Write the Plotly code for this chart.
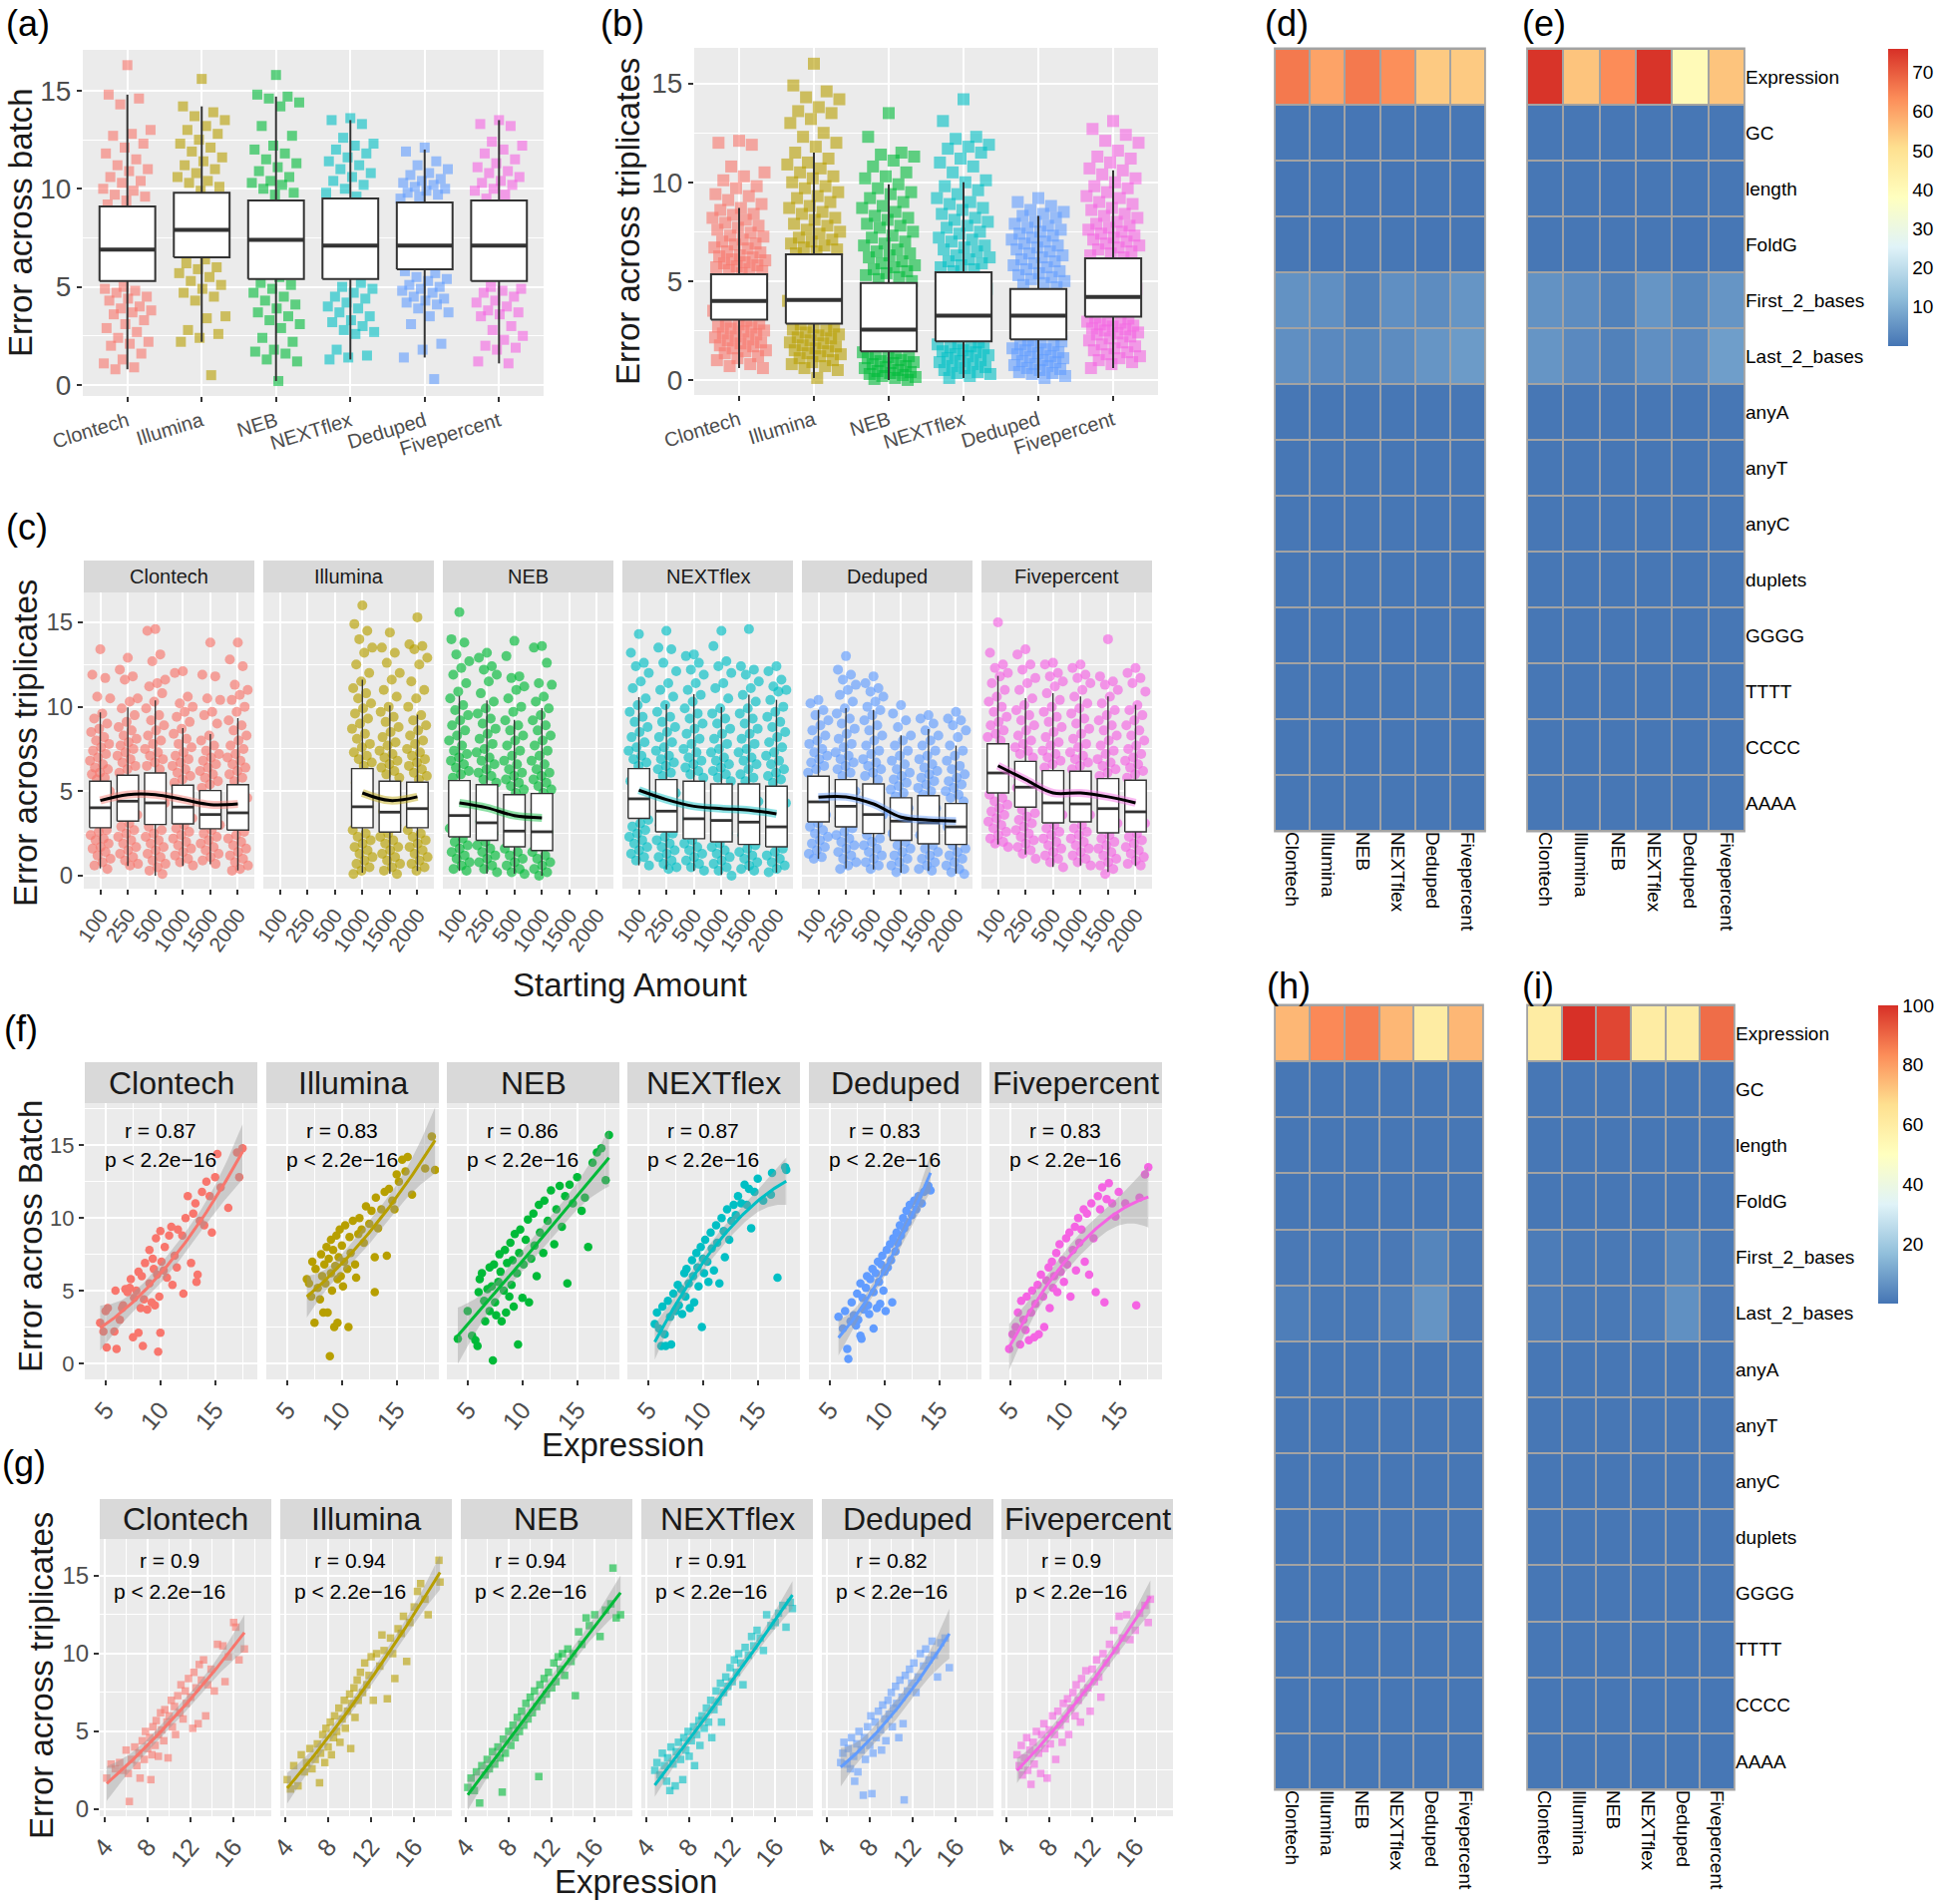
import numpy as np
import plotly.graph_objects as go

W, H = 1946, 1909
SANS = "Liberation Sans, Arial, Helvetica, sans-serif"

# ---------------------------------------------------------------- data
categories = ["Clontech", "Illumina", "NEB", "NEXTflex", "Deduped", "Fivepercent"]
amounts = ["100", "250", "500", "1000", "1500", "2000"]
colors = ["#F8766D", "#B79F00", "#00BA38", "#00BFC4", "#619CFF", "#F564E3"]

# (a) error across batch
a_clontech = [16.3, 14.8, 14.6, 14.3, 13.0, 12.8, 12.7, 12.3, 12.1, 11.8, 11.5, 11.2, 11.0, 10.9, 10.6, 10.4, 10.3,
              10.0, 9.9, 9.7, 9.6, 9.4, 9.2, 8.8, 8.1, 7.4, 6.9, 6.2, 5.6, 5.0, 4.9, 4.8, 4.7, 4.5, 4.4, 4.3, 4.0,
              3.9, 3.8, 3.7, 3.6, 3.3, 3.1, 2.9, 2.7, 2.4, 2.2, 2.1, 2.0, 1.6, 1.3, 1.1, 0.9, 0.8]
a_illumina = [15.6, 14.2, 13.9, 13.7, 13.5, 13.2, 13.0, 12.8, 12.5, 12.3, 12.1, 11.9, 11.6, 11.4, 11.2, 11.0, 10.8,
              10.6, 10.4, 10.3, 10.1, 9.9, 9.2, 8.4, 7.6, 6.9, 6.4, 6.2, 6.0, 5.9, 5.7, 5.5, 5.3, 5.1, 4.9, 4.7,
              4.5, 4.3, 3.5, 3.4, 2.8, 2.6, 2.4, 2.2, 0.5]
a_neb = [15.8, 14.8, 14.7, 14.6, 14.4, 14.2, 13.2, 12.7, 12.2, 12.0, 11.8, 11.5, 11.3, 11.1, 10.9, 10.6, 10.4, 10.3,
         10.2, 10.0, 9.8, 9.7, 8.8, 7.9, 7.2, 6.3, 5.5, 5.2, 5.1, 4.9, 4.7, 4.5, 4.3, 4.1, 3.9, 3.7, 3.5, 3.3, 3.1,
         2.9, 2.4, 2.2, 1.8, 1.7, 1.6, 1.3, 1.2, 0.2]
a_nextflex = [13.6, 13.5, 13.3, 12.6, 12.3, 12.2, 12.0, 11.8, 11.6, 11.4, 11.2, 11.0, 10.8, 10.6, 10.4, 10.2, 10.0,
              9.8, 9.6, 8.9, 7.9, 7.1, 6.0, 5.2, 5.0, 4.9, 4.7, 4.5, 4.4, 4.2, 4.0, 3.9, 3.7, 3.5, 3.3, 3.2, 3.0,
              2.8, 2.7, 2.6, 1.8, 1.5, 1.4, 1.3]
a_deduped = [12.1, 11.9, 11.4, 11.2, 11.0, 10.8, 10.7, 10.5, 10.4, 10.3, 10.2, 10.1, 10.0, 9.9, 9.8, 9.7, 9.6, 9.5,
             8.7, 7.8, 7.1, 6.3, 5.8, 5.7, 5.5, 5.4, 5.3, 5.1, 5.0, 4.9, 4.8, 4.7, 4.5, 4.4, 4.3, 4.2, 4.1, 3.9,
             3.7, 3.5, 3.1, 2.1, 1.8, 1.4, 0.3]
a_fivepercent = [13.5, 13.3, 13.2, 12.4, 12.2, 12.0, 11.8, 11.5, 11.3, 11.1, 10.9, 10.8, 10.6, 10.4, 10.3, 10.2,
                 10.0, 9.9, 9.7, 9.5, 8.6, 7.6, 6.8, 5.8, 5.0, 4.9, 4.8, 4.7, 4.5, 4.3, 4.2, 4.0, 3.8, 3.7, 3.6,
                 3.5, 3.0, 2.8, 2.5, 2.3, 2.0, 1.9, 1.8, 1.2, 1.1]
a_q1 = [5.3, 6.5, 5.4, 5.4, 5.9, 5.3]
a_med = [6.9, 7.9, 7.4, 7.1, 7.1, 7.1]
a_q3 = [9.1, 9.8, 9.4, 9.5, 9.3, 9.4]
a_lo = [0.8, 2.2, 0.2, 1.3, 1.4, 1.1]
a_hi = [14.8, 14.2, 14.7, 13.5, 12.0, 13.5]

# (b) error across triplicates
b_clontech = [12.1, 12.0, 11.9, 10.8, 10.5, 10.3, 10.1, 9.8, 9.7, 9.4, 9.3, 9.1, 8.9, 8.7, 8.6, 8.4, 8.35, 8.2, 8.1,
              7.95, 7.8, 7.7, 7.6, 7.45, 7.3, 7.25, 7.1, 7.0, 6.9, 6.85, 6.7, 6.65, 6.5, 6.45, 6.3, 6.25, 6.2, 6.1,
              6.05, 5.95, 5.9, 5.8, 5.75, 5.7, 5.6, 5.55, 5.5, 5.4, 5.0, 4.5, 4.0, 3.5, 3.0, 2.95, 2.85, 2.8, 2.7,
              2.65, 2.6, 2.5, 2.45, 2.35, 2.3, 2.2, 2.15, 2.05, 2.0, 1.9, 1.85, 1.75, 1.7, 1.6, 1.5, 1.45, 1.35,
              1.2, 1.1, 1.0, 0.8, 0.7, 0.6]
b_illumina = [16.0, 14.9, 14.6, 14.3, 14.2, 13.8, 13.6, 13.5, 13.2, 13.0, 12.5, 12.3, 12.0, 11.8, 11.5, 11.2, 11.0,
              10.9, 10.7, 10.5, 10.3, 10.2, 10.0, 9.8, 9.7, 9.5, 9.3, 9.2, 9.0, 8.8, 8.7, 8.5, 8.4, 8.2, 8.1, 7.9,
              7.8, 7.6, 7.5, 7.4, 7.2, 7.1, 7.0, 6.9, 6.8, 6.7, 6.6, 6.5, 6.4, 5.8, 5.0, 4.0, 3.3, 2.8, 2.7, 2.65,
              2.55, 2.5, 2.4, 2.3, 2.25, 2.15, 2.1, 2.0, 1.9, 1.85, 1.75, 1.7, 1.6, 1.5, 1.45, 1.35, 1.3, 1.2,
              1.1, 1.0, 0.9, 0.8, 0.7, 0.6, 0.5, 0.1]
b_neb = [13.5, 12.3, 11.5, 11.4, 11.3, 11.1, 10.8, 10.5, 10.3, 10.2, 9.9, 9.7, 9.5, 9.4, 9.2, 9.0, 8.8, 8.7, 8.5, 8.3,
         8.2, 8.1, 7.9, 7.8, 7.7, 7.5, 7.3, 7.2, 7.0, 6.9, 6.8, 6.6, 6.5, 6.4, 6.3, 6.2, 6.0, 5.9, 5.8, 5.7, 5.6,
         5.5, 5.4, 5.3, 5.2, 5.1, 5.0, 4.2, 3.2, 2.5, 1.8, 1.4, 1.35, 1.3, 1.2, 1.15, 1.1, 1.0, 0.95, 0.9, 0.85,
         0.8, 0.7, 0.65, 0.6, 0.5, 0.45, 0.4, 0.35, 0.3, 0.25, 0.2, 0.15, 0.1, 0.05, 0.0]
b_nextflex = [14.2, 13.1, 12.3, 12.2, 11.9, 11.8, 11.7, 11.5, 11.2, 11.0, 10.8, 10.5, 10.1, 10.0, 9.8, 9.6, 9.4, 9.2,
              9.0, 8.9, 8.7, 8.6, 8.4, 8.2, 8.1, 8.0, 7.8, 7.7, 7.5, 7.4, 7.2, 7.1, 7.0, 6.8, 6.7, 6.6, 6.5, 6.3,
              6.2, 6.1, 6.0, 5.9, 5.8, 5.7, 5.6, 5.5, 4.6, 3.3, 2.4, 1.9, 1.85, 1.8, 1.7, 1.65, 1.6, 1.5, 1.45,
              1.4, 1.3, 1.25, 1.2, 1.1, 1.0, 0.95, 0.9, 0.8, 0.7, 0.65, 0.6, 0.5, 0.4, 0.35, 0.3, 0.2, 0.1]
b_deduped = [9.2, 9.0, 8.8, 8.6, 8.5, 8.4, 8.3, 8.2, 8.0, 7.9, 7.8, 7.7, 7.6, 7.5, 7.4, 7.3, 7.2, 7.1, 7.0, 6.9, 6.8,
             6.7, 6.6, 6.5, 6.4, 6.3, 6.2, 6.1, 6.0, 5.9, 5.8, 5.7, 5.6, 5.5, 5.4, 5.3, 5.2, 5.1, 5.0, 4.9, 4.8,
             4.7, 4.0, 3.3, 2.6, 2.0, 1.95, 1.9, 1.8, 1.75, 1.7, 1.6, 1.55, 1.5, 1.4, 1.35, 1.3, 1.2, 1.15, 1.1,
             1.0, 0.95, 0.9, 0.8, 0.75, 0.7, 0.6, 0.55, 0.5, 0.4, 0.35, 0.3, 0.2, 0.1]
b_fivepercent = [13.1, 12.7, 12.4, 12.1, 12.0, 11.6, 11.3, 11.2, 11.0, 10.7, 10.6, 10.4, 10.2, 10.0, 9.8, 9.7, 9.5,
                 9.3, 9.2, 9.0, 8.9, 8.7, 8.6, 8.4, 8.3, 8.2, 8.0, 7.9, 7.8, 7.7, 7.6, 7.5, 7.4, 7.3, 7.2, 7.1,
                 7.0, 6.9, 6.8, 6.7, 6.6, 6.5, 6.4, 6.3, 6.2, 5.5, 4.6, 3.8, 3.15, 3.1, 3.0, 2.95, 2.9, 2.8, 2.75,
                 2.7, 2.6, 2.55, 2.5, 2.4, 2.35, 2.3, 2.2, 2.1, 2.0, 1.9, 1.8, 1.7, 1.6, 1.5, 1.4, 1.3, 1.2, 1.1,
                 1.0, 0.9, 0.8, 0.6]
b_q1 = [3.05, 2.85, 1.45, 1.95, 2.05, 3.2]
b_med = [4.0, 4.05, 2.55, 3.25, 3.25, 4.2]
b_q3 = [5.35, 6.35, 4.9, 5.45, 4.6, 6.15]
b_lo = [0.6, 0.1, 0.0, 0.1, 0.1, 0.6]
b_hi = [8.7, 11.5, 9.9, 10.0, 8.3, 10.6]

# (c) error across triplicates by starting amount (one list per amount, empty = not sequenced)
c_pts_clontech = [
    [13.4, 11.9, 11.7, 10.6, 10.5, 9.6, 9.3, 9.0, 8.7, 8.5, 8.2, 8.0, 7.8, 7.6, 7.4, 7.2, 7.0, 6.8, 6.6, 6.4, 6.3,
     6.1, 6.0, 5.8, 5.7, 5.0, 4.0, 3.2, 2.7, 2.6, 2.4, 2.2, 2.1, 1.9, 1.7, 1.6, 1.4, 1.2, 1.0, 0.8, 0.6, 0.4],
    [12.9, 12.2, 11.8, 11.6, 10.5, 10.3, 9.9, 9.5, 9.1, 8.8, 8.6, 8.3, 8.1, 7.9, 7.7, 7.5, 7.3, 7.1, 6.9, 6.7, 6.5,
     6.3, 6.1, 5.2, 4.4, 3.6, 3.1, 2.9, 2.7, 2.5, 2.3, 2.1, 1.9, 1.7, 1.5, 1.3, 1.1, 0.9, 0.7, 0.6],
    [14.6, 14.5, 13.1, 12.7, 11.6, 11.4, 11.2, 10.8, 10.3, 9.9, 9.5, 9.2, 8.9, 8.6, 8.3, 8.0, 7.8, 7.5, 7.3, 7.1,
     6.9, 6.7, 6.5, 6.3, 5.4, 4.3, 3.5, 2.9, 2.7, 2.5, 2.3, 2.1, 1.9, 1.7, 1.5, 1.3, 1.1, 0.9, 0.7, 0.5, 0.3, 0.1],
    [12.1, 12.0, 10.6, 10.2, 10.0, 9.7, 9.4, 9.1, 8.7, 8.4, 8.1, 7.8, 7.6, 7.3, 7.1, 6.9, 6.7, 6.5, 6.3, 6.1, 5.9,
     5.7, 5.5, 4.8, 4.0, 3.4, 3.0, 2.8, 2.6, 2.4, 2.2, 2.0, 1.8, 1.6, 1.4, 1.2, 1.0, 0.8, 0.6],
    [13.8, 11.9, 11.8, 10.5, 10.4, 9.7, 9.5, 9.0, 8.3, 8.0, 7.7, 7.4, 7.2, 7.0, 6.8, 6.6, 6.4, 6.2, 6.0, 5.8, 5.6,
     5.4, 5.2, 4.5, 3.6, 3.0, 2.7, 2.5, 2.3, 2.1, 1.9, 1.7, 1.5, 1.3, 1.1, 0.9, 0.7],
    [13.8, 12.8, 12.4, 11.3, 11.0, 10.7, 10.4, 10.0, 9.7, 9.2, 8.9, 8.6, 8.3, 8.0, 7.7, 7.5, 7.2, 7.0, 6.8, 6.6,
     6.4, 6.2, 6.0, 5.8, 5.6, 4.6, 3.7, 3.0, 2.6, 2.4, 2.2, 2.0, 1.8, 1.6, 1.4, 1.2, 1.0, 0.8, 0.6, 0.4, 0.3],
]
c_pts_illumina = [
    [], [], [],
    [16.0, 14.9, 14.5, 14.0, 13.5, 13.2, 12.5, 12.0, 11.5, 11.1, 10.8, 10.5, 10.2, 9.9, 9.6, 9.3, 9.0, 8.7, 8.4,
     8.1, 7.8, 7.6, 7.3, 7.1, 6.9, 6.7, 6.5, 5.5, 4.1, 3.3, 2.7, 2.5, 2.3, 2.1, 1.9, 1.7, 1.5, 1.3, 1.1, 0.9, 0.7,
     0.5, 0.3, 0.1],
    [14.4, 13.5, 13.2, 12.6, 12.0, 11.6, 11.0, 10.6, 10.0, 9.7, 9.4, 9.1, 8.8, 8.5, 8.2, 7.9, 7.7, 7.4, 7.2, 7.0,
     6.8, 6.6, 6.4, 6.2, 6.0, 5.8, 4.8, 3.8, 3.0, 2.5, 2.3, 2.1, 1.9, 1.7, 1.5, 1.3, 1.1, 0.9, 0.7, 0.5, 0.3, 0.1],
    [15.3, 13.7, 13.6, 13.4, 12.9, 12.5, 11.5, 11.0, 10.5, 10.0, 9.5, 9.2, 8.9, 8.6, 8.3, 8.0, 7.8, 7.5, 7.3, 7.1,
     6.9, 6.7, 6.5, 6.3, 6.1, 5.9, 5.7, 4.9, 4.0, 3.2, 2.7, 2.5, 2.3, 2.1, 1.9, 1.7, 1.5, 1.3, 1.1, 0.9, 0.7, 0.5,
     0.3],
]
c_pts_neb = [
    [15.6, 14.0, 13.8, 13.1, 12.7, 12.3, 11.9, 11.4, 10.9, 10.5, 10.1, 9.8, 9.5, 9.2, 8.9, 8.6, 8.3, 8.0, 7.7, 7.4,
     7.2, 7.0, 6.8, 6.6, 6.4, 6.2, 6.0, 5.8, 4.8, 3.6, 2.8, 2.2, 2.0, 1.8, 1.6, 1.4, 1.2, 1.0, 0.8, 0.6, 0.4, 0.3],
    [13.2, 12.9, 12.4, 12.2, 11.9, 11.5, 10.8, 10.3, 9.9, 9.6, 9.3, 9.0, 8.7, 8.4, 8.1, 7.8, 7.5, 7.3, 7.0, 6.8,
     6.6, 6.3, 6.1, 5.9, 5.7, 5.5, 4.4, 3.2, 2.5, 2.0, 1.8, 1.6, 1.4, 1.2, 1.0, 0.8, 0.6, 0.4, 0.2],
    [13.9, 13.0, 11.8, 11.7, 11.2, 11.0, 10.5, 10.0, 9.7, 9.2, 8.9, 8.6, 8.3, 8.0, 7.7, 7.4, 7.1, 6.8, 6.6, 6.3,
     6.1, 5.9, 5.7, 5.5, 5.3, 5.1, 4.9, 3.8, 2.7, 2.0, 1.6, 1.4, 1.2, 1.0, 0.8, 0.6, 0.4, 0.2, 0.1],
    [13.6, 13.5, 12.6, 11.4, 11.3, 10.6, 10.3, 9.9, 9.5, 9.2, 8.9, 8.6, 8.3, 8.0, 7.7, 7.4, 7.1, 6.8, 6.6, 6.3,
     6.1, 5.9, 5.7, 5.5, 5.3, 5.1, 4.9, 3.9, 2.6, 1.9, 1.4, 1.2, 1.0, 0.8, 0.6, 0.4, 0.2, 0.0],
    [], [],
]
c_pts_nextflex = [
    [14.3, 13.2, 12.6, 12.4, 12.0, 11.5, 11.1, 10.5, 10.1, 9.7, 9.4, 9.1, 8.8, 8.5, 8.2, 7.9, 7.6, 7.4, 7.1, 6.9,
     6.7, 6.5, 5.6, 4.6, 3.8, 3.3, 3.1, 2.9, 2.7, 2.5, 2.3, 2.1, 1.9, 1.7, 1.5, 1.3, 1.1, 0.9, 0.6],
    [14.5, 13.5, 13.4, 12.6, 12.1, 11.4, 11.0, 10.6, 10.1, 9.7, 9.4, 9.1, 8.8, 8.5, 8.2, 7.9, 7.6, 7.4, 7.1, 6.9,
     6.7, 6.5, 6.3, 6.1, 5.9, 4.9, 3.8, 3.0, 2.5, 2.3, 2.1, 1.9, 1.7, 1.5, 1.3, 1.1, 0.9, 0.7, 0.5, 0.4],
    [13.1, 13.0, 12.6, 12.2, 11.9, 11.4, 11.0, 10.7, 10.3, 9.9, 9.6, 9.3, 9.0, 8.7, 8.4, 8.1, 7.8, 7.5, 7.3, 7.0,
     6.8, 6.6, 6.4, 6.2, 6.0, 5.8, 4.7, 3.4, 2.6, 2.1, 1.9, 1.7, 1.5, 1.3, 1.1, 0.9, 0.7, 0.5, 0.3],
    [14.5, 13.6, 12.7, 12.4, 12.0, 11.4, 11.1, 10.5, 9.9, 9.6, 9.3, 9.0, 8.7, 8.4, 8.1, 7.8, 7.5, 7.3, 7.0, 6.8,
     6.6, 6.4, 6.2, 6.0, 5.8, 5.6, 4.5, 3.3, 2.5, 1.9, 1.7, 1.5, 1.3, 1.1, 0.9, 0.7, 0.5, 0.3, 0.0],
    [14.6, 12.4, 12.2, 11.9, 11.5, 11.1, 10.7, 10.3, 9.9, 9.6, 9.3, 9.0, 8.7, 8.4, 8.1, 7.8, 7.5, 7.3, 7.0, 6.8,
     6.6, 6.3, 6.0, 5.8, 5.6, 4.4, 3.2, 2.4, 1.8, 1.6, 1.4, 1.2, 1.0, 0.8, 0.6, 0.4, 0.3],
    [12.4, 12.1, 11.6, 11.2, 11.0, 10.9, 10.4, 10.0, 9.7, 9.4, 9.1, 8.8, 8.5, 8.2, 7.9, 7.6, 7.3, 7.1, 6.8, 6.6,
     6.3, 6.1, 5.9, 5.7, 5.5, 4.3, 2.9, 2.2, 1.6, 1.4, 1.2, 1.0, 0.8, 0.6, 0.4, 0.2],
]
c_pts_deduped = [
    [10.4, 10.2, 9.8, 9.5, 9.2, 8.9, 8.6, 8.3, 8.0, 7.8, 7.5, 7.3, 7.1, 6.9, 6.7, 6.5, 6.3, 6.1, 5.2, 4.4, 3.6,
     3.1, 2.9, 2.7, 2.5, 2.3, 2.1, 1.9, 1.7, 1.5, 1.3, 1.1, 1.0],
    [13.0, 12.2, 11.9, 11.6, 11.3, 11.0, 10.7, 10.3, 9.9, 9.6, 9.3, 9.0, 8.7, 8.4, 8.1, 7.8, 7.6, 7.3, 7.1, 6.9,
     6.7, 6.5, 6.3, 6.1, 5.9, 5.0, 4.1, 3.4, 2.8, 2.6, 2.4, 2.2, 2.0, 1.8, 1.6, 1.4, 1.2, 1.0, 0.8, 0.6, 0.4],
    [11.8, 11.4, 11.1, 10.9, 10.6, 10.3, 10.0, 9.8, 9.5, 9.2, 8.9, 8.6, 8.3, 8.0, 7.7, 7.4, 7.2, 6.9, 6.7, 6.5,
     6.3, 6.1, 5.9, 5.7, 4.6, 3.6, 2.9, 2.4, 2.2, 2.0, 1.8, 1.6, 1.4, 1.2, 1.0, 0.8, 0.6, 0.4],
    [10.1, 9.6, 9.2, 8.8, 8.3, 8.0, 7.7, 7.4, 7.1, 6.8, 6.6, 6.3, 6.1, 5.9, 5.7, 5.5, 5.3, 5.1, 4.9, 4.7, 4.0,
     3.2, 2.5, 2.0, 1.8, 1.6, 1.4, 1.2, 1.0, 0.8, 0.6, 0.4, 0.2],
    [9.5, 9.3, 9.0, 8.6, 8.3, 8.0, 7.7, 7.4, 7.1, 6.9, 6.6, 6.4, 6.2, 6.0, 5.8, 5.6, 5.4, 5.2, 5.0, 4.8, 4.0,
     3.1, 2.4, 1.8, 1.6, 1.4, 1.2, 1.0, 0.8, 0.6, 0.4, 0.3],
    [9.7, 9.3, 9.2, 8.9, 8.6, 8.2, 7.7, 7.4, 7.1, 6.8, 6.5, 6.3, 6.0, 5.8, 5.6, 5.4, 5.2, 5.0, 4.8, 4.6, 4.4,
     3.6, 2.9, 2.2, 1.8, 1.6, 1.4, 1.2, 1.0, 0.8, 0.6, 0.4, 0.2, 0.1],
]
c_pts_fivepercent = [
    [15.0, 13.2, 12.5, 12.3, 12.0, 11.8, 11.4, 11.0, 10.6, 10.3, 10.0, 9.7, 9.4, 9.1, 8.9, 8.6, 8.4, 8.2, 8.0, 7.0,
     6.1, 5.4, 4.8, 4.6, 4.4, 4.2, 4.0, 3.8, 3.6, 3.4, 3.2, 3.0, 2.8, 2.6, 2.4, 2.2, 2.0, 1.9, 1.7],
    [13.4, 13.1, 12.5, 12.2, 11.7, 11.4, 11.0, 10.5, 10.1, 9.8, 9.5, 9.2, 8.9, 8.6, 8.3, 8.0, 7.8, 7.6, 7.4, 7.2,
     7.0, 6.0, 5.2, 4.5, 3.9, 3.7, 3.5, 3.3, 3.1, 2.9, 2.7, 2.5, 2.3, 2.1, 1.9, 1.7, 1.5, 1.3, 1.0],
    [12.6, 12.5, 12.0, 11.8, 11.5, 11.2, 10.8, 10.4, 10.0, 9.7, 9.4, 9.1, 8.8, 8.5, 8.2, 7.9, 7.7, 7.4, 7.2, 7.0,
     6.8, 6.6, 6.4, 5.3, 4.3, 3.6, 3.0, 2.8, 2.6, 2.4, 2.2, 2.0, 1.8, 1.6, 1.4, 1.2, 1.0, 0.8, 0.5],
    [12.5, 12.3, 11.9, 11.7, 11.4, 11.0, 10.6, 10.2, 9.9, 9.6, 9.3, 9.0, 8.7, 8.4, 8.1, 7.8, 7.6, 7.3, 7.1, 6.9,
     6.7, 6.5, 6.3, 5.3, 4.3, 3.6, 3.0, 2.8, 2.6, 2.4, 2.2, 2.0, 1.8, 1.6, 1.4, 1.2, 1.0, 0.8, 0.6],
    [14.0, 11.8, 11.5, 11.3, 11.0, 10.6, 10.2, 9.8, 9.5, 9.2, 8.9, 8.6, 8.3, 8.0, 7.7, 7.4, 7.2, 6.9, 6.7, 6.5,
     6.3, 6.1, 5.9, 5.0, 4.0, 3.1, 2.4, 2.2, 2.0, 1.8, 1.6, 1.4, 1.2, 1.0, 0.8, 0.6, 0.4, 0.1],
    [12.3, 12.0, 11.7, 11.4, 10.9, 10.1, 9.8, 9.5, 9.2, 8.9, 8.6, 8.3, 8.0, 7.7, 7.5, 7.2, 7.0, 6.8, 6.6, 6.4,
     6.2, 6.0, 5.8, 4.7, 3.8, 3.1, 2.5, 2.3, 2.1, 1.9, 1.7, 1.5, 1.3, 1.1, 0.9, 0.7, 0.6],
]
c_q1 = [[2.84, 3.23, 3.03, 3.07, 2.78, 2.70], [None, None, None, 2.84, 2.58, 2.84],
        [2.30, 2.09, 1.71, 1.49, None, None], [3.39, 2.60, 2.19, 2.01, 1.85, 1.71],
        [3.19, 2.89, 2.50, 2.09, 1.89, 1.85], [4.90, 4.06, 3.13, 3.19, 2.54, 2.60]]
c_med = [[4.02, 4.41, 4.31, 4.06, 3.62, 3.72], [None, None, None, 4.08, 3.76, 3.97],
         [3.56, 3.13, 2.64, 2.60, None, None], [4.55, 3.82, 3.37, 3.27, 3.17, 2.89],
         [4.37, 4.11, 3.62, 3.23, 3.13, 2.89], [6.08, 5.24, 4.31, 4.25, 3.97, 3.78]]
c_q3 = [[5.59, 5.95, 6.08, 5.36, 5.04, 5.39], [None, None, None, 6.34, 5.59, 5.53],
        [5.63, 5.39, 4.80, 4.86, None, None], [6.34, 5.69, 5.59, 5.43, 5.43, 5.30],
        [5.89, 5.69, 5.43, 4.61, 4.74, 4.27], [7.81, 6.77, 6.22, 6.18, 5.75, 5.65]]
c_lo = [[0.43, 0.57, 0.00, 0.57, 0.67, 0.31], [None, None, None, 0.18, 0.12, 0.28],
        [0.28, 0.12, 0.12, 0.00, None, None], [0.61, 0.37, 0.28, 0.04, 0.28, 0.18],
        [1.00, 0.43, 0.37, 0.18, 0.28, 0.12], [1.85, 1.26, 0.51, 0.61, 0.22, 0.57]]
c_hi = [[9.67, 9.96, 10.37, 8.74, 8.39, 9.33], [None, None, None, 11.60, 10.08, 9.53],
        [10.65, 10.37, 9.23, 9.92, None, None], [10.57, 10.16, 10.75, 9.98, 10.71, 10.41],
        [9.82, 9.92, 9.82, 8.31, 8.68, 7.70], [11.83, 10.51, 10.81, 10.61, 10.61, 10.12]]
c_trend = [[4.45, 4.80, 4.80, 4.51, 4.21, 4.25], [None, None, None, 4.90, 4.45, 4.67],
           [4.31, 4.02, 3.56, 3.43, None, None], [5.06, 4.51, 4.11, 3.97, 3.88, 3.66],
           [4.65, 4.67, 4.25, 3.47, 3.29, 3.23], [6.51, 5.69, 4.90, 4.90, 4.67, 4.31]]

# (f) Expression vs error across batch: (expression, error)
f_clontech = [(4.5, 2.8), (4.8, 2.2), (5.0, 3.6), (5.2, 3.8), (5.1, 1.1), (5.8, 2.2), (6.0, 1.0), (5.9, 5.0),
              (6.3, 3.0), (6.5, 3.8), (6.6, 4.0), (6.8, 5.1), (7.0, 4.9), (7.2, 5.2), (7.3, 5.8), (7.5, 1.8),
              (7.6, 4.5), (7.8, 5.0), (8.0, 2.1), (8.0, 6.3), (8.2, 3.8), (8.3, 6.0), (8.4, 1.2), (8.5, 4.4),
              (8.6, 6.9), (8.8, 3.7), (9.0, 5.5), (9.0, 7.8), (9.2, 4.2), (9.3, 7.2), (9.4, 6.5), (9.5, 4.0),
              (9.6, 8.6), (9.7, 6.1), (9.8, 0.8), (9.9, 4.6), (10.0, 2.1), (10.0, 9.1), (10.1, 7.0), (10.3, 6.4),
              (10.4, 8.0), (10.6, 5.9), (10.8, 8.8), (11.0, 9.4), (11.1, 5.4), (11.3, 7.4), (11.5, 6.6),
              (11.6, 9.2), (12.0, 8.8), (12.1, 4.8), (12.3, 10.0), (12.5, 11.5), (12.8, 6.9), (13.0, 10.3),
              (13.2, 11.0), (13.3, 5.6), (13.4, 6.1), (13.6, 9.8), (13.8, 11.8), (14.0, 9.5), (14.2, 12.5),
              (14.5, 11.5), (14.7, 9.0), (15.0, 12.8), (15.2, 14.4), (15.5, 12.1), (16.2, 10.7), (17.0, 14.5),
              (17.2, 12.8), (17.5, 14.8)]
f_illumina = [(6.8, 5.8), (7.0, 5.5), (7.2, 4.6), (7.3, 7.0), (7.5, 2.8), (7.6, 6.5), (7.8, 5.2), (8.0, 4.4),
              (8.1, 7.5), (8.2, 6.0), (8.3, 3.5), (8.4, 6.8), (8.5, 5.5), (8.6, 8.0), (8.7, 3.5), (8.8, 7.2),
              (8.9, 0.5), (9.0, 6.2), (9.0, 8.5), (9.1, 5.0), (9.2, 7.8), (9.3, 2.5), (9.4, 6.7), (9.5, 8.8),
              (9.6, 2.8), (9.6, 5.8), (9.7, 7.3), (9.8, 9.2), (9.9, 6.0), (10.0, 8.1), (10.1, 5.3), (10.2, 7.0),
              (10.3, 9.5), (10.5, 6.5), (10.6, 2.5), (10.7, 8.7), (10.8, 7.6), (11.0, 9.8), (11.2, 6.8),
              (11.3, 5.9), (11.5, 8.9), (11.6, 10.0), (11.8, 9.2), (12.0, 8.3), (12.2, 10.8), (12.5, 9.6),
              (12.7, 10.5), (13.0, 4.9), (13.0, 7.3), (13.1, 11.4), (13.3, 9.3), (13.6, 10.6), (13.9, 11.8),
              (14.1, 7.4), (14.3, 12.0), (14.6, 11.2), (14.8, 10.6), (15.0, 13.0), (15.2, 12.5), (15.5, 14.0),
              (15.8, 13.2), (16.0, 14.2), (16.4, 11.6), (17.6, 13.4), (18.2, 15.6), (18.5, 13.3)]
f_neb = [(4.1, 1.7), (5.0, 3.6), (5.4, 1.9), (5.7, 1.6), (5.9, 1.2), (6.0, 4.9), (6.1, 5.8), (6.3, 6.2),
         (6.5, 4.3), (6.6, 2.9), (6.8, 5.1), (7.0, 3.6), (7.0, 6.6), (7.2, 5.3), (7.3, 0.2), (7.4, 6.8), (7.5, 4.2),
         (7.6, 3.3), (7.8, 5.6), (7.9, 7.5), (8.0, 6.3), (8.1, 2.9), (8.3, 5.0), (8.4, 7.8), (8.5, 3.5), (8.6, 6.9),
         (8.8, 4.6), (8.9, 8.3), (9.0, 5.4), (9.1, 7.1), (9.2, 3.9), (9.3, 8.9), (9.5, 6.2), (9.6, 1.3), (9.7, 7.6),
         (9.8, 9.2), (10.0, 4.5), (10.1, 6.8), (10.3, 8.5), (10.5, 9.9), (10.6, 4.2), (10.8, 7.2), (11.0, 10.3),
         (11.1, 8.1), (11.3, 6.0), (11.5, 10.9), (11.6, 9.0), (11.9, 7.6), (12.0, 11.2), (12.3, 9.8),
         (12.6, 11.9), (12.9, 8.2), (13.1, 10.6), (13.4, 12.2), (13.6, 9.4), (13.9, 11.5), (14.1, 5.5),
         (14.3, 12.3), (14.6, 11.0), (15.0, 12.8), (15.4, 10.5), (15.7, 11.4), (16.0, 8.0), (16.4, 13.8),
         (16.8, 14.5), (17.2, 14.8), (17.6, 12.6), (17.9, 15.7)]
f_nextflex = [(5.6, 2.7), (5.8, 3.5), (6.0, 2.4), (6.2, 1.2), (6.3, 3.9), (6.5, 2.0), (6.6, 1.2), (6.8, 4.3),
              (7.0, 3.2), (7.1, 1.3), (7.3, 4.8), (7.5, 3.6), (7.7, 5.4), (7.8, 4.0), (8.0, 5.1), (8.1, 3.4),
              (8.3, 6.2), (8.4, 4.6), (8.5, 6.5), (8.7, 5.5), (8.8, 3.8), (9.0, 7.1), (9.1, 6.0), (9.2, 4.2),
              (9.4, 7.6), (9.5, 6.6), (9.6, 5.3), (9.8, 8.0), (9.9, 2.5), (10.0, 7.2), (10.1, 6.2), (10.2, 8.5),
              (10.4, 7.0), (10.5, 5.6), (10.7, 9.0), (10.8, 7.9), (11.0, 6.4), (11.2, 9.5), (11.3, 8.3),
              (11.5, 5.5), (11.7, 10.0), (11.9, 9.1), (12.0, 7.3), (12.2, 10.6), (12.4, 8.5), (12.6, 9.8),
              (12.8, 10.9), (13.0, 10.2), (13.2, 11.5), (13.5, 11.0), (13.8, 12.3), (14.0, 10.9), (14.2, 12.0),
              (14.4, 9.3), (14.7, 11.8), (15.0, 12.7), (15.5, 11.2), (16.2, 11.6), (16.3, 13.1), (16.8, 5.9),
              (17.5, 13.5), (17.6, 13.3)]
f_deduped = [(5.8, 3.2), (6.2, 2.4), (6.4, 3.6), (6.6, 1.0), (6.7, 0.3), (6.9, 2.9), (7.0, 4.2), (7.2, 3.3),
             (7.4, 2.6), (7.5, 4.8), (7.6, 3.0), (7.8, 1.9), (7.8, 5.5), (7.9, 1.7), (8.0, 4.5), (8.1, 3.7),
             (8.3, 5.2), (8.4, 6.0), (8.5, 4.0), (8.6, 3.4), (8.7, 5.8), (8.9, 6.5), (9.0, 4.9), (9.0, 2.4),
             (9.2, 6.2), (9.3, 3.8), (9.4, 7.0), (9.5, 5.6), (9.6, 4.1), (9.7, 6.8), (9.8, 7.4), (9.9, 5.0),
             (10.0, 6.3), (10.1, 3.6), (10.2, 7.8), (10.3, 6.6), (10.5, 8.2), (10.6, 7.1), (10.7, 4.2), (10.8, 8.6),
             (11.0, 7.7), (11.1, 9.0), (11.2, 8.3), (11.4, 9.5), (11.5, 8.8), (11.7, 10.0), (11.8, 9.3),
             (12.0, 10.5), (12.1, 9.7), (12.3, 10.9), (12.5, 10.2), (12.7, 11.2), (12.9, 10.6), (13.1, 11.5),
             (13.4, 11.0), (13.6, 11.8), (14.0, 12.2), (14.2, 11.9)]
f_fivepercent = [(4.9, 1.0), (5.2, 2.0), (5.5, 2.5), (5.7, 3.5), (5.9, 1.3), (6.0, 4.3), (6.2, 3.0), (6.4, 2.3),
                 (6.5, 4.6), (6.7, 1.6), (6.9, 3.5), (7.0, 5.0), (7.2, 1.8), (7.3, 4.1), (7.5, 5.4), (7.6, 2.0),
                 (7.8, 6.1), (8.0, 4.6), (8.1, 2.5), (8.3, 5.7), (8.5, 6.6), (8.6, 3.8), (8.8, 7.0), (8.9, 5.2),
                 (9.0, 6.0), (9.2, 7.6), (9.3, 4.9), (9.5, 8.2), (9.6, 6.3), (9.8, 7.1), (9.9, 5.6), (10.1, 8.6),
                 (10.2, 6.8), (10.4, 9.0), (10.5, 4.6), (10.7, 7.8), (10.9, 9.4), (11.0, 6.4), (11.2, 10.0),
                 (11.3, 8.3), (11.5, 9.2), (11.7, 10.6), (11.8, 7.0), (12.0, 10.3), (12.2, 6.1), (12.4, 11.0),
                 (12.6, 8.6), (12.8, 4.9), (13.0, 11.5), (13.2, 10.6), (13.4, 12.1), (13.6, 4.2), (13.8, 11.3),
                 (14.0, 12.4), (14.3, 11.0), (14.6, 10.1), (14.9, 11.8), (15.5, 11.0), (16.5, 4.0), (16.8, 11.4),
                 (17.3, 13.0), (17.6, 13.5)]
f_r = ["0.87", "0.83", "0.86", "0.87", "0.83", "0.83"]

# (g) Expression vs error across triplicates: (expression, error)
g_clontech = [(4.2, 2.0), (4.6, 2.9), (5.0, 2.6), (5.4, 3.0), (5.7, 2.5), (6.0, 3.8), (6.2, 2.3), (6.3, 0.5),
              (6.5, 3.2), (6.8, 4.0), (7.0, 2.8), (7.2, 3.6), (7.3, 2.0), (7.5, 4.4), (7.7, 3.2), (7.8, 5.0),
              (8.0, 3.9), (8.2, 4.6), (8.3, 1.9), (8.4, 3.5), (8.5, 5.3), (8.7, 4.1), (8.8, 5.7), (9.0, 3.4),
              (9.0, 4.8), (9.2, 6.2), (9.3, 5.1), (9.5, 4.4), (9.6, 6.4), (9.8, 5.6), (9.9, 3.3), (10.0, 6.0),
              (10.2, 7.0), (10.3, 5.3), (10.5, 6.6), (10.6, 4.8), (10.8, 7.3), (11.0, 6.2), (11.1, 8.0),
              (11.3, 5.8), (11.5, 7.6), (11.6, 6.8), (11.8, 8.4), (12.0, 7.2), (12.2, 5.2), (12.3, 8.8),
              (12.5, 7.8), (12.7, 5.5), (12.8, 9.3), (13.0, 8.3), (13.2, 9.6), (13.4, 6.0), (13.6, 8.0),
              (13.9, 9.0), (14.2, 7.6), (14.5, 10.6), (15.0, 10.5), (15.2, 8.2), (15.5, 9.8), (16.0, 12.0),
              (16.2, 11.7), (16.5, 9.6), (17.0, 10.3)]
g_illumina = [(4.2, 1.9), (4.5, 1.3), (4.8, 2.8), (5.2, 1.5), (5.5, 3.5), (5.8, 2.4), (6.0, 3.0), (6.3, 3.9),
              (6.5, 2.6), (6.8, 3.2), (7.0, 4.2), (7.2, 1.7), (7.3, 3.6), (7.5, 4.8), (7.7, 3.0), (7.8, 5.2),
              (8.0, 4.0), (8.2, 5.6), (8.3, 3.5), (8.5, 4.6), (8.6, 6.0), (8.8, 5.0), (9.0, 6.5), (9.1, 4.3),
              (9.3, 5.8), (9.5, 7.0), (9.6, 5.2), (9.8, 6.3), (10.0, 7.4), (10.1, 3.9), (10.2, 6.8), (10.4, 7.8),
              (10.5, 5.9), (10.7, 8.3), (10.8, 7.0), (11.0, 8.8), (11.2, 7.5), (11.4, 9.4), (11.6, 8.0),
              (11.8, 8.6), (12.0, 9.8), (12.2, 7.0), (12.5, 10.0), (12.8, 9.2), (13.0, 11.2), (13.2, 10.2),
              (13.5, 7.1), (13.8, 11.0), (14.0, 10.0), (14.2, 8.4), (14.5, 11.6), (14.8, 11.3), (15.0, 12.4),
              (15.3, 9.5), (15.6, 12.0), (16.0, 13.0), (16.3, 14.0), (16.6, 14.5), (17.0, 13.5), (17.3, 12.5),
              (18.3, 16.0), (18.4, 14.6)]
g_neb = [(4.2, 1.4), (4.5, 2.0), (4.8, 1.2), (5.0, 2.4), (5.3, 0.4), (5.5, 2.8), (5.8, 2.2), (6.0, 3.2),
         (6.2, 2.6), (6.5, 3.7), (6.7, 2.9), (7.0, 4.0), (7.2, 3.3), (7.4, 1.1), (7.5, 4.5), (7.7, 3.6), (8.0, 5.0),
         (8.2, 4.1), (8.4, 5.4), (8.6, 4.6), (8.8, 5.9), (9.0, 5.0), (9.2, 6.3), (9.4, 5.4), (9.6, 6.8), (9.8, 5.8),
         (10.0, 7.2), (10.2, 6.2), (10.4, 7.6), (10.6, 6.6), (10.8, 2.1), (10.9, 8.0), (11.1, 7.0), (11.3, 8.4),
         (11.5, 7.4), (11.7, 8.8), (12.0, 7.8), (12.2, 9.4), (12.4, 8.2), (12.6, 9.8), (12.8, 9.0), (13.0, 10.0),
         (13.2, 8.6), (13.5, 10.3), (13.8, 9.5), (14.0, 10.0), (14.2, 7.3), (14.5, 11.4), (14.8, 10.6),
         (15.2, 12.3), (15.5, 11.8), (16.0, 12.5), (16.5, 11.1), (17.0, 12.8), (17.5, 13.2), (17.7, 15.5),
         (18.0, 12.3), (18.4, 12.5)]
g_nextflex = [(4.8, 2.5), (5.0, 3.0), (5.3, 2.2), (5.5, 3.6), (5.7, 2.8), (5.9, 1.8), (6.0, 3.3), (6.2, 1.2),
              (6.3, 4.0), (6.5, 2.9), (6.7, 1.5), (6.8, 3.7), (7.0, 4.3), (7.2, 3.2), (7.4, 1.9), (7.5, 4.6),
              (7.7, 3.8), (7.9, 5.0), (8.0, 3.4), (8.2, 4.4), (8.4, 5.3), (8.5, 2.8), (8.7, 4.8), (8.9, 5.7),
              (9.0, 4.1), (9.2, 6.0), (9.4, 5.2), (9.6, 6.5), (9.8, 5.6), (10.0, 7.0), (10.1, 4.6), (10.3, 6.4),
              (10.5, 7.6), (10.7, 6.9), (10.9, 8.1), (11.0, 5.6), (11.2, 7.5), (11.4, 8.5), (11.6, 7.9),
              (11.8, 9.1), (12.0, 8.2), (12.2, 9.6), (12.4, 8.8), (12.6, 10.0), (12.8, 9.4), (13.0, 8.0),
              (13.2, 10.4), (13.5, 9.9), (13.8, 11.1), (14.0, 10.5), (14.3, 11.5), (14.6, 11.0), (14.9, 10.2),
              (15.2, 12.5), (15.6, 11.8), (16.0, 12.0), (16.3, 12.6), (16.7, 13.1), (17.0, 11.7), (17.4, 13.3),
              (17.6, 12.9)]
g_deduped = [(5.3, 3.0), (5.5, 3.6), (5.6, 4.3), (5.9, 2.9), (6.0, 3.9), (6.2, 2.6), (6.3, 4.6), (6.5, 3.4),
             (6.6, 1.8), (6.8, 4.2), (6.9, 2.4), (7.0, 5.0), (7.2, 3.8), (7.4, 0.9), (7.5, 4.6), (7.6, 3.2),
             (7.8, 5.3), (8.0, 4.1), (8.1, 6.0), (8.2, 1.0), (8.3, 3.6), (8.5, 5.6), (8.6, 4.6), (8.8, 6.3),
             (9.0, 5.1), (9.1, 3.8), (9.2, 6.7), (9.4, 5.8), (9.5, 4.4), (9.7, 7.0), (9.8, 6.1), (10.0, 7.5),
             (10.1, 5.3), (10.2, 6.5), (10.4, 7.9), (10.5, 6.8), (10.7, 4.6), (10.8, 8.3), (11.0, 7.2), (11.1, 5.5),
             (11.2, 0.6), (11.3, 8.6), (11.5, 7.6), (11.7, 9.0), (11.9, 8.1), (12.1, 9.4), (12.3, 7.5), (12.5, 8.5),
             (12.7, 10.0), (13.0, 9.2), (13.2, 10.3), (13.5, 9.6), (13.8, 10.8), (14.0, 9.9), (14.3, 8.5),
             (14.6, 10.7), (15.0, 11.0), (15.4, 9.1)]
g_fivepercent = [(5.0, 3.5), (5.2, 2.8), (5.4, 4.1), (5.5, 2.2), (5.7, 3.3), (5.9, 4.6), (6.0, 2.5), (6.2, 3.8),
                 (6.3, 1.6), (6.5, 4.3), (6.6, 2.9), (6.8, 5.0), (7.0, 3.6), (7.2, 2.3), (7.3, 4.8), (7.5, 5.5),
                 (7.6, 3.9), (7.8, 2.0), (8.0, 5.1), (8.1, 4.2), (8.3, 6.0), (8.5, 4.8), (8.6, 3.2), (8.8, 6.3),
                 (9.0, 5.4), (9.2, 4.3), (9.3, 6.8), (9.5, 5.8), (9.7, 7.1), (9.8, 4.8), (10.0, 6.5), (10.2, 7.5),
                 (10.4, 6.0), (10.5, 8.0), (10.7, 7.0), (10.9, 5.6), (11.0, 8.4), (11.2, 7.5), (11.4, 8.9),
                 (11.6, 7.8), (11.8, 6.3), (12.0, 9.0), (12.2, 8.2), (12.4, 9.6), (12.6, 8.5), (12.8, 7.2),
                 (13.0, 10.0), (13.3, 9.4), (13.6, 10.6), (14.0, 11.5), (14.2, 10.2), (14.5, 12.4), (14.8, 11.0),
                 (15.2, 12.5), (15.5, 10.9), (16.0, 11.5), (16.4, 12.6), (16.9, 13.1), (17.2, 12.0), (17.4, 13.5)]
g_r = ["0.9", "0.94", "0.94", "0.91", "0.82", "0.9"]

# (d)(e)(h)(i) heatmaps, rows x kits
heat_rows = ["Expression", "GC", "length", "FoldG", "First_2_bases", "Last_2_bases", "anyA", "anyT", "anyC",
             "duplets", "GGGG", "TTTT", "CCCC", "AAAA"]
heat_d = [[66, 60, 66, 63, 54, 54], [0.3, 0.3, 0.2, 0.3, 0.3, 0.3], [0.2, 0.3, 0.2, 0.2, 0.3, 0.2],
          [0.3, 0.2, 0.3, 0.3, 0.2, 0.3], [5.0, 4.5, 2.0, 4.5, 4.0, 5.5], [4.5, 3.5, 3.0, 4.0, 5.5, 6.5],
          [0.3, 0.3, 0.4, 0.3, 0.3, 0.3], [0.3, 0.3, 0.3, 0.3, 0.4, 0.3], [0.3, 0.2, 0.3, 0.3, 0.3, 0.3],
          [0.4, 0.3, 0.3, 0.4, 0.3, 0.3], [0.2, 0.3, 0.3, 0.2, 0.3, 0.3], [0.3, 0.3, 0.3, 0.3, 0.8, 0.3],
          [0.3, 0.3, 0.2, 0.3, 0.3, 0.3], [0.3, 0.3, 0.3, 0.3, 0.3, 0.3]]
heat_e = [[75.5, 55, 63.5, 75.5, 40, 55], [0.3, 0.3, 0.3, 0.3, 0.3, 0.3], [0.3, 0.3, 0.2, 0.3, 0.3, 0.3],
          [0.3, 0.3, 0.3, 0.3, 0.2, 0.3], [5.0, 4.0, 2.0, 5.5, 3.0, 5.5], [5.5, 3.5, 2.0, 4.5, 3.5, 7.0],
          [0.3, 0.3, 0.3, 0.3, 0.3, 0.3], [0.3, 0.3, 0.3, 0.3, 0.3, 0.3], [0.3, 0.3, 0.3, 0.3, 0.3, 0.3],
          [0.3, 0.3, 0.3, 0.3, 0.3, 0.3], [0.3, 0.3, 0.3, 0.3, 0.3, 0.3], [0.3, 0.3, 0.3, 0.3, 0.3, 0.3],
          [0.3, 0.3, 0.3, 0.3, 0.3, 0.3], [0.3, 0.3, 0.3, 0.3, 0.3, 0.3]]
heat_h = [[75, 84, 86, 75, 60, 75], [0.5, 0.5, 0.5, 0.5, 0.5, 0.5], [0.5, 0.5, 0.5, 0.5, 0.5, 0.5],
          [0.5, 0.5, 0.5, 0.5, 0.5, 0.5], [1.0, 0.8, 0.8, 1.0, 3.5, 0.8], [2.0, 0.8, 0.8, 2.0, 7.0, 1.0],
          [0.5, 0.5, 0.5, 0.5, 0.5, 0.5], [0.5, 0.5, 0.5, 0.5, 0.5, 0.5], [0.5, 0.5, 0.5, 0.5, 0.5, 0.5],
          [0.5, 0.5, 0.5, 0.5, 0.5, 0.5], [0.5, 0.5, 0.5, 0.5, 0.5, 0.5], [0.5, 0.5, 0.5, 0.5, 0.5, 0.5],
          [0.5, 0.5, 0.5, 0.5, 0.5, 0.5], [0.5, 0.5, 0.5, 0.5, 0.5, 0.5]]
heat_i = [[60, 100, 96, 60, 60, 89], [0.5, 0.5, 0.5, 0.5, 0.5, 0.5], [0.5, 0.5, 0.5, 0.5, 0.5, 0.5],
          [0.5, 0.5, 0.5, 0.5, 0.5, 0.5], [1.5, 0.8, 0.8, 0.8, 3.5, 0.8], [1.5, 0.8, 0.8, 1.5, 6.0, 1.0],
          [0.5, 0.5, 0.5, 0.5, 0.5, 0.5], [0.5, 0.5, 0.5, 0.5, 0.5, 0.5], [0.5, 0.5, 0.5, 0.5, 0.5, 0.5],
          [0.5, 0.5, 0.5, 0.5, 0.5, 0.5], [0.5, 0.5, 0.5, 0.5, 0.5, 0.5], [0.5, 0.5, 0.5, 0.5, 0.5, 0.5],
          [0.5, 0.5, 0.5, 0.5, 0.5, 0.5], [0.5, 0.5, 0.5, 0.5, 0.5, 0.5]]
heat_de_ticks = [10, 20, 30, 40, 50, 60, 70]
heat_hi_ticks = [20, 40, 60, 80, 100]

# ---------------------------------------------------------------- helpers
CS = [[0, "#4575B4"], [1 / 6, "#91BFDB"], [2 / 6, "#E0F3F8"], [3 / 6, "#FFFFBF"], [4 / 6, "#FEE090"],
      [5 / 6, "#FC8D59"], [1, "#D73027"]]

fig = go.Figure()
lay = dict(width=W, height=H, margin=dict(l=0, r=0, t=0, b=0, pad=0, autoexpand=False), paper_bgcolor="white",
           plot_bgcolor="#EBEBEB", showlegend=False, hovermode=False,
           font=dict(family=SANS, color="#1A1A1A"), shapes=[], annotations=[])
n_axes = [0]


def fx(p):
    return p / W


def fy(p):
    return 1 - p / H


def rgba(hexc, a):
    h = hexc.lstrip("#")
    return "rgba(%d,%d,%d,%s)" % (int(h[0:2], 16), int(h[2:4], 16), int(h[4:6], 16), a)


def gg_axes(xpx, ypx, xr, yr, xvals, xtext, yvals, xminor, yminor, xangle, xsize, ysize, show_y):
    n_axes[0] += 1
    s = "" if n_axes[0] == 1 else str(n_axes[0])
    tick = dict(ticks="outside", ticklen=5, tickwidth=1.5, tickcolor="#333333")
    xa = dict(domain=[fx(xpx[0]), fx(xpx[1])], range=xr, anchor="y" + s, tickmode="array", tickvals=xvals,
              ticktext=xtext, tickangle=xangle, tickfont=dict(size=xsize, color="#4D4D4D"), showgrid=True,
              gridcolor="white", gridwidth=2, zeroline=False, showline=False, fixedrange=True, automargin=False,
              **tick)
    if xminor:
        xa["minor"] = dict(tickmode="array", tickvals=xminor, showgrid=True, gridcolor="white", gridwidth=1,
                           ticks="")
    ya = dict(domain=[fy(ypx[1]), fy(ypx[0])], range=yr, anchor="x" + s, tickmode="array", tickvals=yvals,
              ticktext=[str(v) for v in yvals], tickfont=dict(size=ysize, color="#4D4D4D"), showgrid=True,
              gridcolor="white", gridwidth=2, zeroline=False, showline=False, showticklabels=show_y,
              fixedrange=True, automargin=False, ticks="outside" if show_y else "", ticklen=5, tickwidth=1.5,
              tickcolor="#333333")
    if yminor:
        ya["minor"] = dict(tickmode="array", tickvals=yminor, showgrid=True, gridcolor="white", gridwidth=1,
                           ticks="")
    lay["xaxis" + s] = xa
    lay["yaxis" + s] = ya
    return "x" + s, "y" + s


def heat_axes(xpx, ypx, show_rows):
    n_axes[0] += 1
    s = str(n_axes[0])
    lay["xaxis" + s] = dict(domain=[fx(xpx[0]), fx(xpx[1])], range=[-0.5, 5.5], anchor="y" + s, tickmode="array",
                            tickvals=list(range(6)), ticktext=categories, tickangle=90,
                            tickfont=dict(size=19, color="black"), showgrid=False, zeroline=False, ticks="",
                            showline=False, fixedrange=True, automargin=False)
    lay["yaxis" + s] = dict(domain=[fy(ypx[1]), fy(ypx[0])], range=[13.5, -0.5], anchor="x" + s, side="right",
                            tickmode="array", tickvals=list(range(14)), ticktext=heat_rows,
                            tickfont=dict(size=19, color="black"), showticklabels=show_rows, showgrid=False,
                            zeroline=False, ticks="", showline=False, fixedrange=True, automargin=False)
    lay["shapes"].append(dict(type="rect", xref="x" + s + " domain", yref="y" + s + " domain", x0=-0.004, x1=1.004,
                              y0=-0.002, y1=1.002, fillcolor="#A3A3A3", line=dict(width=0), layer="below"))
    return "x" + s, "y" + s


def ann(text, x, y, size, xanchor="center", yanchor="middle", angle=0, color="#1A1A1A", xref="paper",
        yref="paper"):
    lay["annotations"].append(dict(text=text, x=x, y=y, xref=xref, yref=yref, showarrow=False, xanchor=xanchor,
                                   yanchor=yanchor, textangle=angle,
                                   font=dict(size=size, color=color, family=SANS)))


def strip(x0, x1, y0, y1, text, size):
    lay["shapes"].append(dict(type="rect", xref="paper", yref="paper", x0=fx(x0), x1=fx(x1), y0=fy(y1),
                              y1=fy(y0), fillcolor="#D9D9D9", line=dict(width=0), layer="below"))
    ann(text, fx((x0 + x1) / 2), fy((y0 + y1) / 2), size)


def jitter(center, n, half):
    k = np.arange(n)
    return center + ((k * 0.6180339887 + 0.5) % 1.0 - 0.5) * 2 * half


def points(xa, ya, pos, vals, half, color, size, symbol, opacity):
    fig.add_trace(go.Scatter(x=jitter(pos, len(vals), half), y=vals, mode="markers", xaxis=xa, yaxis=ya,
                             marker=dict(color=color, size=size, symbol=symbol, opacity=opacity,
                                         line=dict(width=0))))


def boxes(xa, ya, pos, q1, med, q3, lo, hi, width, lw, mw):
    # whiskers, white boxes and thick medians drawn as scatter paths so they sit above the points
    wx, wy, bx, by, mx, my = [], [], [], [], [], []
    for p, a, m, b, l, h in zip(pos, q1, med, q3, lo, hi):
        wx += [p, p, None, p, p, None]
        wy += [b, h, None, l, a, None]
        bx += [p - width / 2, p + width / 2, p + width / 2, p - width / 2, p - width / 2, None]
        by += [a, a, b, b, a, None]
        mx += [p - width / 2, p + width / 2, None]
        my += [m, m, None]
    fig.add_trace(go.Scatter(x=wx, y=wy, mode="lines", line=dict(color="#333333", width=lw), xaxis=xa, yaxis=ya))
    fig.add_trace(go.Scatter(x=bx, y=by, mode="lines", fill="toself", fillcolor="white",
                             line=dict(color="#333333", width=lw), xaxis=xa, yaxis=ya))
    fig.add_trace(go.Scatter(x=mx, y=my, mode="lines", line=dict(color="#333333", width=mw), xaxis=xa, yaxis=ya))


def smooth_fit(x, y, deg=2, n=80):
    x = np.asarray(x, float)
    y = np.asarray(y, float)
    X = np.vander(x, deg + 1)
    beta = np.linalg.lstsq(X, y, rcond=None)[0]
    res = y - X @ beta
    s2 = res @ res / (len(x) - deg - 1)
    cov = s2 * np.linalg.inv(X.T @ X)
    xs = np.linspace(x.min(), x.max(), n)
    Xs = np.vander(xs, deg + 1)
    yh = Xs @ beta
    se = np.sqrt(np.einsum("ij,jk,ik->i", Xs, cov, Xs))
    return xs, yh, yh - 2.2 * se, yh + 2.2 * se


# ---------------------------------------------------------------- panel (a)
pos6 = [1, 2, 3, 4, 5, 6]
xa, ya = gg_axes([83, 545], [50, 397], [0.4, 6.6], [-0.56, 17.08], pos6, categories, [0, 5, 10, 15], None,
                 [2.5, 7.5, 12.5], -17, 20, 28, True)
for i, vals in enumerate([a_clontech, a_illumina, a_neb, a_nextflex, a_deduped, a_fivepercent]):
    points(xa, ya, i + 1, vals, 0.33, colors[i], 10, "square", 0.6)
boxes(xa, ya, pos6, a_q1, a_med, a_q3, a_lo, a_hi, 0.75, 2, 4)
ann("Error across batch", fx(21), fy(223), 33, angle=-90)

# ---------------------------------------------------------------- panel (b)
xa, ya = gg_axes([696, 1161], [48, 396], [0.4, 6.6], [-0.76, 16.8], pos6, categories, [0, 5, 10, 15], None,
                 [2.5, 7.5, 12.5], -17, 20, 28, True)
for i, vals in enumerate([b_clontech, b_illumina, b_neb, b_nextflex, b_deduped, b_fivepercent]):
    points(xa, ya, i + 1, vals, 0.36, colors[i], 12, "square", 0.6)
boxes(xa, ya, pos6, b_q1, b_med, b_q3, b_lo, b_hi, 0.75, 2, 4)
ann("Error across triplicates", fx(629), fy(222), 33, angle=-90)

# ---------------------------------------------------------------- panel (c)
c_pts = [c_pts_clontech, c_pts_illumina, c_pts_neb, c_pts_nextflex, c_pts_deduped, c_pts_fivepercent]
for f in range(6):
    x0 = 84 + f * 180
    xa, ya = gg_axes([x0, x0 + 171], [594, 891], [0.4, 6.6], [-0.77, 16.77], pos6, amounts, [0, 5, 10, 15],
                     None, [2.5, 7.5, 12.5], -55, 21, 24, f == 0)
    strip(x0, x0 + 171, 562, 594, categories[f], 20)
    present = [j for j in range(6) if c_q1[f][j] is not None]
    for j in present:
        points(xa, ya, j + 1, c_pts[f][j], 0.38, colors[f], 10, "circle", 0.65)
    boxes(xa, ya, [j + 1 for j in present], [c_q1[f][j] for j in present], [c_med[f][j] for j in present],
          [c_q3[f][j] for j in present], [c_lo[f][j] for j in present], [c_hi[f][j] for j in present],
          0.78, 1.4, 2.8)
    tx = [j + 1 for j in present]
    ty = [c_trend[f][j] for j in present]
    fig.add_trace(go.Scatter(x=tx, y=ty, mode="lines", line=dict(color=rgba(colors[f], 0.45), width=8,
                                                                  shape="spline"), xaxis=xa, yaxis=ya))
    fig.add_trace(go.Scatter(x=tx, y=ty, mode="lines", line=dict(color="black", width=3, shape="spline"),
                             xaxis=xa, yaxis=ya))
ann("Error across triplicates", fx(25), fy(745), 33, angle=-90)
ann("Starting Amount", fx(631), fy(987), 33)


# ---------------------------------------------------------------- panels (f) and (g)
def scatter_row(data, rvals, x_starts, width, ypx, strip_px, xr, yr, xvals, xminor, ysize, symbol, msize, opac,
                rt_y, pt_y):
    for f in range(6):
        x0 = x_starts[f]
        xa, ya = gg_axes([x0, x0 + width], ypx, xr, yr, xvals, [str(v) for v in xvals], [0, 5, 10, 15],
                         xminor, [2.5, 7.5, 12.5, 17.5], -50, 25, ysize, f == 0)
        strip(x0, x0 + width, strip_px[0], strip_px[1], categories[f], 32)
        xs = [p[0] for p in data[f]]
        ys = [p[1] for p in data[f]]
        fig.add_trace(go.Scatter(x=xs, y=ys, mode="markers", xaxis=xa, yaxis=ya,
                                 marker=dict(color=colors[f], size=msize, symbol=symbol, opacity=opac,
                                             line=dict(width=0))))
        sx, sy, slo, shi = smooth_fit(xs, ys)
        fig.add_trace(go.Scatter(x=np.concatenate([sx, sx[::-1]]), y=np.concatenate([slo, shi[::-1]]),
                                 fill="toself", fillcolor="rgba(153,153,153,0.4)", line=dict(width=0),
                                 mode="lines", xaxis=xa, yaxis=ya))
        fig.add_trace(go.Scatter(x=sx, y=sy, mode="lines", line=dict(color=colors[f], width=3), xaxis=xa,
                                 yaxis=ya))
        ann("r = " + rvals[f], 10, rt_y, 21, color="black", xref=xa, yref=ya)
        ann("p < 2.2e\u221216", 10, pt_y, 21, color="black", xref=xa, yref=ya)


f_data = [f_clontech, f_illumina, f_neb, f_nextflex, f_deduped, f_fivepercent]
scatter_row(f_data, f_r, [85, 267, 448, 629, 811, 992], 173, [1106, 1383], [1065, 1106], [3.1, 18.85],
            [-1.1, 17.9], [5, 10, 15], [7.5, 12.5, 17.5], 22, "circle", 8.5, 1.0, 16.0, 14.0)
ann("Error across Batch", fx(30), fy(1240), 33, angle=-90)
ann("Expression", fx(624), fy(1448), 33)

g_data = [g_clontech, g_illumina, g_neb, g_nextflex, g_deduped, g_fivepercent]
scatter_row(g_data, g_r, [100, 281, 462, 643, 824, 1004], 172, [1543, 1821], [1503, 1543], [3.55, 19.5],
            [-0.45, 17.37], [4, 8, 12, 16], [6, 10, 14, 18], 24, "square", 7.5, 0.6, 16.0, 14.0)
ann("Error across triplicates", fx(41), fy(1680), 33, angle=-90)
ann("Expression", fx(637), fy(1886), 33)

# ---------------------------------------------------------------- heatmaps
cb_common = dict(thickness=20, thicknessmode="pixels", lenmode="fraction", ticks="", outlinewidth=0,
                 tickfont=dict(size=19, color="black", family=SANS), xanchor="left", yanchor="top", xpad=0,
                 ypad=0)
for z, xpx, ypx, rows, zmax, cb in [
        (heat_d, [1278, 1489], [49, 833], False, 76, None),
        (heat_e, [1531, 1749], [49, 833], True, 76,
         dict(x=fx(1893), y=fy(49), len=(347 - 49) / H, tickvals=heat_de_ticks)),
        (heat_h, [1278, 1487], [1008, 1794], False, 100, None),
        (heat_i, [1531, 1739], [1008, 1794], True, 100,
         dict(x=fx(1883), y=fy(1008), len=(1307 - 1008) / H, tickvals=heat_hi_ticks))]:
    xa, ya = heat_axes(xpx, ypx, rows)
    kw = dict(showscale=False)
    if cb:
        kw = dict(showscale=True, colorbar=dict(**cb_common, **cb))
    fig.add_trace(go.Heatmap(z=z, x=list(range(6)), y=list(range(14)), zmin=0, zmax=zmax, colorscale=CS,
                             xgap=2, ygap=2, xaxis=xa, yaxis=ya, **kw))

# ---------------------------------------------------------------- panel letters
for lab, x, y in [("(a)", 4, 1), ("(b)", 600, 1), ("(c)", 4, 506), ("(f)", 2, 1009), ("(g)", 0, 1445),
                  ("(d)", 1266, 1), ("(e)", 1524, 1), ("(h)", 1268, 966), ("(i)", 1524, 966)]:
    ann(lab, fx(x), fy(y), 36, xanchor="left", yanchor="top", color="black")

fig.update_layout(**lay)
fig.write_html("out.html", config={"displayModeBar": False},
               post_script="document.body.style.margin='0';document.body.style.overflow='hidden';")
